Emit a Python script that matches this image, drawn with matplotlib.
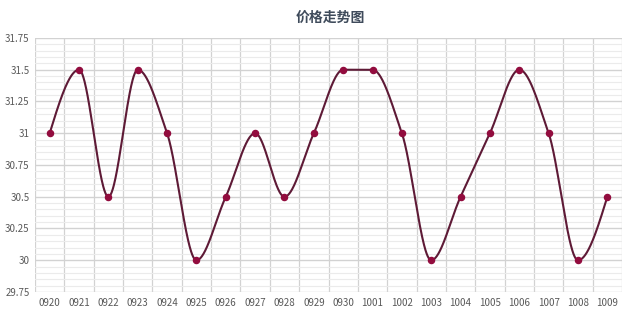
import numpy as np
import matplotlib
matplotlib.use("Agg")
import matplotlib.pyplot as plt
from matplotlib.ticker import MultipleLocator, FixedLocator

plt.rcParams['font.family'] = ['Noto Sans CJK SC', 'DejaVu Sans']

title = "价格走势图"
categories = ["0920", "0921", "0922", "0923", "0924", "0925", "0926", "0927", "0928", "0929",
              "0930", "1001", "1002", "1003", "1004", "1005", "1006", "1007", "1008", "1009"]
prices = [31, 31.5, 30.5, 31.5, 31, 30, 30.5, 31, 30.5, 31,
          31.5, 31.5, 31, 30, 30.5, 31, 31.5, 31, 30, 30.5]
y_ticks = [29.75, 30, 30.25, 30.5, 30.75, 31, 31.25, 31.5, 31.75]
y_tick_labels = ["29.75", "30", "30.25", "30.5", "30.75", "31", "31.25", "31.5", "31.75"]


def smooth_slopes(x, y):
    h = np.diff(x)
    d = np.diff(y) / h
    n = len(x)
    m = np.zeros(n)
    for k in range(1, n - 1):
        if d[k - 1] * d[k] <= 0:
            m[k] = 0.0
        else:
            w1 = 2 * h[k] + h[k - 1]
            w2 = h[k] + 2 * h[k - 1]
            m[k] = (w1 + w2) / (w1 / d[k - 1] + w2 / d[k])
    # natural-type end conditions (zero curvature at the ends)
    m[0] = (3 * d[0] - m[1]) / 2
    m[-1] = (3 * d[-1] - m[-2]) / 2
    return m


def smooth_eval(x, y, xs):
    m = smooth_slopes(x, y)
    out = np.empty_like(xs)
    idx = np.clip(np.searchsorted(x, xs, side="right") - 1, 0, len(x) - 2)
    for j, (xv, i) in enumerate(zip(xs, idx)):
        h = x[i + 1] - x[i]
        t = (xv - x[i]) / h
        h00 = 2 * t**3 - 3 * t**2 + 1
        h10 = t**3 - 2 * t**2 + t
        h01 = -2 * t**3 + 3 * t**2
        h11 = t**3 - t**2
        out[j] = h00 * y[i] + h10 * h * m[i] + h01 * y[i + 1] + h11 * h * m[i + 1]
    return out


x = np.arange(len(categories), dtype=float)
y = np.array(prices, dtype=float)
xs = np.linspace(x[0], x[-1], 1500)
ys = smooth_eval(x, y, xs)

fig = plt.figure(figsize=(6.4, 3.2), dpi=100)
ax = fig.add_axes([0.0547, 0.0875, 0.9172, 0.7938])

ax.set_xlim(-0.5, len(categories) - 0.5)
ax.set_ylim(29.75, 31.75)

ax.yaxis.set_major_locator(FixedLocator(y_ticks))
ax.yaxis.set_minor_locator(MultipleLocator(0.05))
ax.set_yticklabels(y_tick_labels)
ax.xaxis.set_major_locator(FixedLocator(x))
ax.xaxis.set_minor_locator(FixedLocator(np.arange(-0.5, len(categories), 1.0)))
ax.set_xticklabels(categories)

ax.grid(which='minor', axis='y', color='#EBEBEB', linewidth=0.8)
ax.grid(which='major', axis='y', color='#D2D2D2', linewidth=1.0)
ax.grid(which='minor', axis='x', color='#D2D2D2', linewidth=0.9)
ax.set_axisbelow(True)

for s in ax.spines.values():
    s.set_visible(False)

ax.tick_params(axis='both', which='both', length=0)
ax.tick_params(axis='both', labelsize=7, labelcolor='#595959')
ax.tick_params(axis='x', pad=4)
ax.tick_params(axis='y', pad=4)

ax.plot(xs, ys, color='#5E1A36', linewidth=1.5, zorder=3, solid_capstyle='round')
ax.plot(x, y, linestyle='none', marker='o', markersize=4.4,
        markerfacecolor='#920C3E', markeredgecolor='#920C3E', zorder=4)

fig.text(0.516, 0.945, title, ha='center', va='center', fontsize=10,
         fontweight='bold', color='#3F4B5B')

fig.savefig("out.png", dpi=100, facecolor='white')
